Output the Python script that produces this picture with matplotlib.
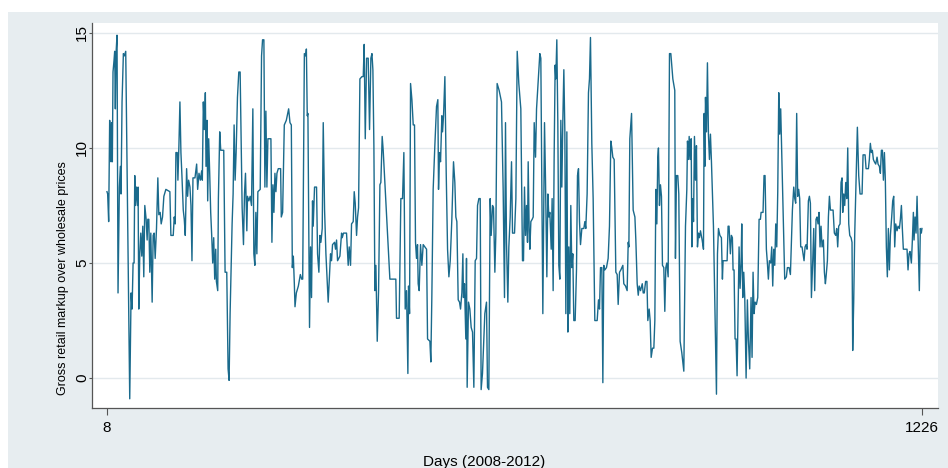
import matplotlib
matplotlib.use('Agg')
import matplotlib.pyplot as plt
from matplotlib.patches import Rectangle

# daily gross retail markup over wholesale price, 2008-2012
days = [
    8, 9, 10.5, 12, 13, 14, 15, 16, 17, 18.5,
    19.5, 20.5, 21.5, 23, 24.5, 26.5, 28, 29, 30.5, 32.5,
    34, 36, 42, 44, 45.5, 47, 48.5, 49.5, 50.5, 52,
    53.5, 54.5, 55.5, 57, 58.5, 60, 61.5, 63, 64.5, 66.5,
    68, 69, 70.5, 72, 73.5, 75.5, 77, 78.5, 80, 82,
    84, 85.5, 87.5, 89, 91, 93, 96, 102, 103.5, 107,
    108.5, 110, 111, 113, 114, 115.5, 117, 118.5, 120, 122,
    123.5, 125, 127, 128.5, 130, 132, 133.5, 135, 136.5, 139.5,
    # 2008-09
    142, 143.5, 145.5, 147.5, 149.5, 150.5, 152, 153.5, 155, 156,
    157.5, 158.5, 160, 161.5, 163, 164.5, 166, 167.5, 169, 170.5,
    171.5, 173.5, 174.5, 176.5, 178, 182.5, 184.5, 187, 189, 190.5,
    192, 195, 196.5, 198, 199.5, 201, 203, 205, 207, 210,
    212, 213.5, 215, 217, 218, 220, 222, 224, 226, 227.5,
    229, 230.5, 232, 233.5, 237, 239, 240.5, 242.5, 244, 245.5,
    247, 248.5, 253, 254.5, 256, 257.5, 259, 260.5, 262, 264,
    267.5, 268.5, 270.5, 273, 276, 279.5, 281.5, 283.5, 285, 286.5,
    288, 289, 291, 294, 297, 299, 300.5,
    303, 305, 306, 307.3, 308.3, 310.7, 312.2, 313.7, 315.2, 316.2,
    318.2, 321.2, 322.7, 324.7, 326.2, 327.7, 329.7, 331.2, 333.2, 335.2,
    338.6, 342.1, 343.6, 345.1, 348.1, 349.6, 351.1, 352.6, 356.1, 358.6,
    359.6, 361.5, 366, 368.5, 370, 372, 373.5, 376, 377.5, 379,
    381, 382.5, 384, 386, 389, 391, 392.4, 394, 396, 398.4,
    400.4, 402.4, 404, 405.4, 406.9, 408.4, 409.9, 411.9, 413.9, 415.9,
    417.3, 419.3, 420.8, 430.8, 439.7, 440.7, 444.7, 447.2, 449.7, 451.7,
    453.7, 455.7,
    457.7, 458.7, 460.2, 461.7, 463.7, 465.7, 467.6, 469.1, 470.6, 472.1,
    473.1, 474.6, 476.6, 478.6, 480.6, 483.1, 485.6, 487.1, 490.6, 492,
    493.5, 495.5, 498, 500.5, 502.5, 503.5, 505, 506.5, 508.5, 509.5,
    511, 513, 515, 517, 519, 521, 523.4, 525.9, 527.9, 529.4,
    530.9, 532.9, 534.9, 536.4, 538.4, 539.9, 540.8, 542.3, 544.3, 545.3,
    546.3, 548.3, 550.3, 552.3, 554.3, 556.3, 558.3, 560.3, 561.8, 563.8,
    565.8, 567.2, 569.2, 572.7, 575.2, 576.7, 578.7, 580.7, 582.2, 584.2,
    585.7, 587.7, 589.2, 591.1, 594.1, 597.6, 600.1, 602.1, 603.6, 605.1,
    607.1, 608.6, 610.6, 612.6, 614.1,
    617.1, 619.1, 621.1, 623.5, 626.5, 629, 630.5, 632, 633.5, 635,
    636.5, 637.5, 639, 640, 641.5, 643.5, 645, 646.5, 648.5, 650,
    652.4, 654.9, 656.4, 659.4, 661.9, 663.4, 665.4, 666.9, 668.4, 669.9,
    671.9, 673.3, 674.8, 676.3, 677.8, 678.8, 680.3, 681.8, 683.3, 684.8,
    686.3, 687.8, 689.3, 690.8, 692.3, 693.8, 695.3, 696.8, 698.2, 699.7,
    701.2, 702.7, 704.2, 705.7, 707.7, 709.7, 711.2, 712.7, 714.2, 715.7,
    717.7, 720.7, 722.2, 723.6, 725.6, 727.6, 729.1, 730.6, 732.6, 734.6,
    737.1, 740.6, 742.6, 744.1, 745.6, 747.6, 749.1, 750.5, 752, 754.5,
    757, 759, 761, 762.5, 764, 766, 768.5, 770.5, 772,
    774, 776, 779, 780.4, 783, 785.4, 787, 788, 789.4, 792,
    794.4, 797, 798.4, 800.4, 802, 803.4, 805.4, 808, 809.4, 811,
    813, 815, 816.3, 818.3, 819.8, 821.3, 823.3, 825.3, 826.8, 828.3,
    829.8, 831.2, 832.2, 833.7, 835.2, 836.7, 838.2, 840.2, 841.7, 843.2,
    844.7, 846.7, 848.7, 850.7, 853.7, 856.6, 857.6, 859.1, 861.1, 862.6,
    864.6, 867.1, 870.1, 872.6, 874.6, 875.6, 877.1, 878.1, 879.6, 881.1,
    882.1, 883.1, 884.6, 886, 887.5, 889, 890.5, 892, 893.5, 895,
    897.5, 899.5, 900.5, 901.5, 902.5, 904, 905.4, 906.9, 908.4, 909.9,
    911.4, 914.4, 918.9, 920.4, 921.9,
    924, 926.3, 927.8, 928.8, 934.8, 936.3, 937.7, 939.7, 941.2, 942.7,
    943.7, 945.2, 946.7, 948.2, 949.7, 951.2, 952.7, 954.2, 955.7, 956.7,
    958.2, 959.7, 961.2, 963.2, 965.1, 966.6, 968.6, 970.6, 972.1, 973.6,
    975.1, 976.6, 978.6, 980.6, 982.6, 984.6, 985.6, 988.5, 990, 991.5,
    993.5, 995, 996.5, 998, 1000, 1001.5, 1003, 1004.5, 1006, 1007.5,
    1009, 1010.5, 1012, 1013.4, 1014.9, 1020.9, 1023.4, 1024.9, 1027.4, 1029.4,
    1032.4, 1034.4, 1035.9, 1037.3, 1038.8, 1040.3, 1041.8, 1043.3, 1044.8, 1046.8,
    1048.3, 1049.8, 1051.3, 1052.8, 1054.3, 1056.3, 1057.8, 1059.3, 1060.8, 1062.8,
    1064.3, 1065.7, 1067.7, 1069.2, 1070.7, 1072.2, 1073.7, 1075.2, 1076.7, 1078.7,
    1080.2, 1081.7,
    1082.7, 1084.7, 1086.2, 1087.7, 1089.2, 1093.2, 1095.1, 1097.1, 1098.6, 1100.1,
    1101.6, 1103.6, 1105.1, 1106.6, 1107.6, 1109.1, 1110.6, 1112.1, 1113.6, 1115.1,
    1116.6, 1118.1, 1120.1, 1121.5, 1122.5, 1124, 1125.5, 1129.5, 1131.5,
    1133.5, 1136.5, 1138, 1141, 1142.5, 1146, 1147.4, 1148.9, 1150.4, 1151.9,
    1153.4, 1154.9, 1156.9, 1158.9, 1160.4, 1162.4, 1163.9, 1165.4, 1166.9, 1168.4,
    1169.9, 1171.3, 1172.8, 1174.3, 1175.8, 1177.3, 1178.8, 1180.8, 1182.3, 1183.8,
    1185.3, 1186.8, 1188.8, 1190.3, 1192.3, 1193.8, 1195.3, 1196.7, 1198.2, 1203.7,
    1205.2, 1206.7, 1208.2, 1210.2, 1211.7, 1213.2, 1214.2, 1215.7, 1217.2, 1218.7,
    1220.2, 1222.1, 1223.6, 1225.1, 1226,
]

markup = [
    8.1, 8.0, 6.8, 11.2, 10.7, 9.4, 11.1, 9.4, 13.3, 13.8,
    14.2, 11.7, 14.1, 14.9, 3.7, 8.3, 9.2, 8.0, 12.0, 14.1,
    14.0, 14.2, -0.9, 3.7, 3.0, 5.0, 5.0, 8.8, 7.5, 8.3,
    7.5, 8.3, 3.0, 5.4, 6.3, 5.3, 6.6, 4.4, 7.5, 6.9,
    6.0, 6.9, 6.9, 4.6, 6.3, 3.3, 6.2, 6.3, 5.2, 6.5,
    8.7, 7.1, 7.2, 6.7, 7.0, 7.9, 8.2, 8.1, 6.2, 6.2,
    7.0, 6.7, 9.8, 9.8, 8.6, 10.1, 12.0, 9.8, 8.8, 7.3,
    6.9, 6.2, 9.1, 7.9, 8.6, 8.3, 7.5, 5.1, 8.7, 8.7,
    # 2008-09
    9.3, 8.2, 8.9, 8.6, 9.0, 8.6, 12.0, 10.8, 12.4, 9.2,
    11.2, 7.7, 10.4, 8.9, 7.2, 6.2, 5.0, 6.1, 4.3, 5.6,
    4.2, 3.8, 7.8, 10.7, 9.9, 9.9, 4.6, 4.6, 0.4, -0.1,
    2.8, 6.7, 8.0, 11.0, 8.6, 9.8, 12.2, 13.3, 13.3, 7.4,
    5.8, 8.0, 8.9, 6.4, 7.9, 7.7, 7.9, 7.5, 11.7, 5.4,
    4.9, 7.2, 5.4, 8.1, 8.2, 14.0, 14.7, 14.7, 8.3, 11.6,
    8.3, 10.4, 10.4, 5.9, 8.4, 7.2, 8.9, 8.1, 8.9, 9.1,
    9.1, 7.0, 7.2, 11.0, 11.2, 11.7, 11.1, 11.0, 4.8, 5.3,
    4.1, 3.1, 3.7, 4.0, 4.5, 4.3, 4.3,
    14.1, 14.0, 14.3, 11.4, 11.5, 2.2, 5.7, 3.5, 7.7, 6.6,
    8.3, 8.3, 5.4, 4.6, 6.2, 5.9, 6.5, 11.1, 7.3, 5.4,
    3.3, 5.4, 5.1, 5.8, 5.9, 5.6, 6.0, 5.1, 5.3, 6.3,
    6.1, 6.3, 6.3, 4.9, 5.7, 4.9, 6.7, 6.8, 8.1, 7.6,
    6.2, 7.0, 7.4, 13.0, 13.1, 13.1, 14.5, 10.4, 13.9, 13.9,
    10.8, 13.9, 14.1, 13.4, 10.1, 3.8, 4.9, 1.6, 3.8, 8.4,
    8.5, 10.5, 9.9, 4.3, 4.3, 2.6, 2.6, 7.8, 7.8, 9.8,
    3.0, 3.8,
    0.2, 4.0, 2.8, 12.8, 12.1, 11.0, 11.0, 5.9, 5.2, 5.8,
    4.1, 3.8, 5.8, 4.9, 5.8, 5.7, 5.6, 1.7, 1.6, 0.7,
    3.5, 8.2, 10.1, 11.8, 12.1, 8.2, 9.8, 9.4, 11.4, 10.7,
    11.4, 13.1, 8.9, 5.6, 4.4, 5.1, 6.9, 9.4, 8.5, 7.0,
    6.8, 3.4, 3.3, 3.0, 3.7, 5.4, 3.5, 4.1, 1.7, 5.2,
    -0.4, 3.3, 3.0, 2.2, 2.0, -0.4, 5.1, 5.2, 7.5, 7.8,
    7.8, -0.5, 0.2, 2.8, 3.3, -0.4, -0.5, 7.8, 6.2, 7.5,
    7.4, 4.6, 6.3, 12.8, 12.5, 12.0, 8.2, 3.5, 11.1, 5.9,
    3.3, 5.7, 7.0, 9.4, 6.3,
    6.3, 7.8, 14.2, 12.8, 11.7, 5.1, 5.1, 8.3, 6.2, 7.5,
    5.9, 9.4, 6.4, 5.6, 6.8, 6.9, 7.0, 11.1, 9.6, 11.7,
    12.9, 14.1, 13.9, 2.8, 11.1, 8.6, 4.4, 8.0, 7.0, 7.2,
    5.6, 7.8, 3.8, 9.6, 13.6, 13.0, 14.7, 11.1, 4.9, 4.3,
    11.2, 8.3, 11.2, 13.4, 10.7, 2.8, 10.7, 2.0, 5.7, 2.8,
    7.5, 4.8, 5.4, 2.5, 2.5, 4.7, 8.8, 9.1, 6.8, 5.8,
    6.5, 6.5, 6.8, 6.5, 8.0, 12.4, 13.0, 14.8, 10.2, 7.8,
    2.5, 2.5, 3.4, 3.0, 4.8, 4.8, -0.2, 4.9, 4.7, 4.8,
    5.2, 6.6, 10.3, 10.0, 9.6, 9.5, 4.6, 4.5, 3.2,
    4.6, 4.7, 4.9, 4.1, 4.0, 3.8, 5.9, 5.7, 10.4, 11.5,
    7.3, 7.0, 6.0, 4.1, 3.6, 4.0, 3.8, 4.1, 3.7, 3.7,
    4.2, 4.2, 2.5, 3.0, 2.5, 0.9, 1.3, 1.3, 2.5, 8.2,
    6.7, 9.6, 10.0, 7.5, 8.4, 7.9, 4.9, 4.8, 2.9, 4.8,
    5.0, 4.4, 14.1, 14.1, 13.0, 12.5, 5.2, 8.8, 8.8, 8.0,
    1.6, 1.1, 0.3, 6.6, 8.2, 10.3, 9.5, 10.5, 9.5, 10.4,
    5.7, 7.8, 6.8, 10.5, 8.6, 10.1, 5.7, 6.3, 6.1, 6.4,
    6.0, 5.6, 11.5, 9.2, 12.2, 10.7, 13.7, 10.6, 9.5, 10.6,
    9.4, 6.6, -0.7, 5.4, 6.5,
    6.2, 6.1, 4.3, 5.1, 5.1, 6.6, 6.6, 5.4, 6.2, 6.1,
    4.7, 4.7, 1.7, 1.7, 0.1, 3.0, 5.7, 3.9, 5.0, 6.7,
    3.5, 4.6, 3.5, 0.0, 3.4, 1.7, 0.4, 3.5, 0.9, 4.6,
    2.8, 3.3, 3.2, 3.5, 6.9, 6.9, 7.2, 7.2, 8.8, 8.8,
    5.6, 5.0, 4.3, 5.1, 5.0, 5.7, 4.0, 5.6, 4.9, 6.7,
    5.7, 8.1, 12.4, 10.6, 11.7, 4.3, 4.4, 4.8, 4.8, 4.5,
    7.3, 8.3, 7.8, 7.6, 11.5, 7.9, 8.2, 7.8, 5.7, 5.7,
    5.4, 5.1, 5.7, 5.8, 5.6, 7.7, 7.9, 7.6, 3.5, 5.1,
    6.5, 3.8, 6.9, 7.0, 6.7, 7.2, 5.7, 6.6, 5.7, 6.0,
    4.6, 4.1,
    4.4, 5.1, 7.0, 7.9, 7.3, 7.3, 6.3, 6.2, 6.5, 5.7,
    6.6, 6.7, 8.5, 8.7, 7.2, 8.0, 7.5, 8.5, 7.8, 10.0,
    6.7, 6.2, 6.1, 5.9, 1.2, 3.3, 6.2, 10.9, 8.8,
    8.0, 8.0, 9.7, 9.7, 9.1, 9.1, 9.5, 10.2, 9.8, 9.9,
    9.5, 9.4, 9.3, 9.6, 9.3, 9.2, 8.9, 9.9, 9.9, 8.6,
    9.8, 8.6, 5.7, 4.4, 6.5, 4.7, 6.2, 7.0, 7.7, 7.9,
    5.7, 6.7, 6.4, 6.6, 6.5, 6.9, 7.5, 6.5, 5.6, 5.6,
    4.7, 5.4, 5.5, 5.0, 6.0, 7.2, 6.0, 7.0, 6.3, 7.9,
    6.0, 3.8, 6.5, 6.3, 6.5,
]

assert len(days) == len(markup)

y_ticks = [0, 5, 10, 15]
x_ticks = [8, 1226]

W, H = 948, 468
fig = plt.figure(figsize=(W / 100, H / 100), dpi=100, facecolor='white')

# graph region backdrop, kept underneath the axes
fig.patches.append(Rectangle((8 / W, 0), 1, (H - 12) / H, transform=fig.transFigure,
                             facecolor='#e7edf0', edgecolor='none', zorder=-5))

ax = fig.add_axes([92 / W, 60 / H, 846 / W, 385 / H])
ax.set_zorder(1)
ax.set_facecolor('white')

ax.plot(days, markup, color='#1a6a8c', lw=1.0, zorder=3)

ax.set_xlim(-14.4, 1250)
ax.set_ylim(-1.3, 15.43)

ax.set_yticks(y_ticks)
ax.set_xticks(x_ticks)
ax.yaxis.grid(True, color='#e3e9ed', lw=1.0)
ax.set_axisbelow(True)

for side in ['top', 'right']:
    ax.spines[side].set_visible(False)
for side in ['left', 'bottom']:
    ax.spines[side].set_color('#555555')
    ax.spines[side].set_linewidth(0.9)

tick_font = ['Liberation Sans', 'DejaVu Sans']
ax.tick_params(axis='y', length=2, pad=0, color='#555555', labelsize=11)
ax.tick_params(axis='x', length=5, pad=4, color='#555555', labelsize=11)
for lab in ax.get_yticklabels():
    lab.set_rotation(90)
    lab.set_va('center')
    lab.set_family(tick_font)
for lab in ax.get_xticklabels():
    lab.set_family(tick_font)

fig.text(63 / W, (H - 278) / H, 'Gross retail markup over wholesale prices',
         rotation=90, ha='center', va='center', fontsize=9,
         family=['Liberation Sans Narrow', 'Liberation Sans', 'DejaVu Sans'])
fig.text(484 / W, 6 / H, 'Days (2008-2012)', ha='center', va='center',
         fontsize=11, family=tick_font)

fig.savefig('out.png', dpi=100, facecolor=fig.get_facecolor())
